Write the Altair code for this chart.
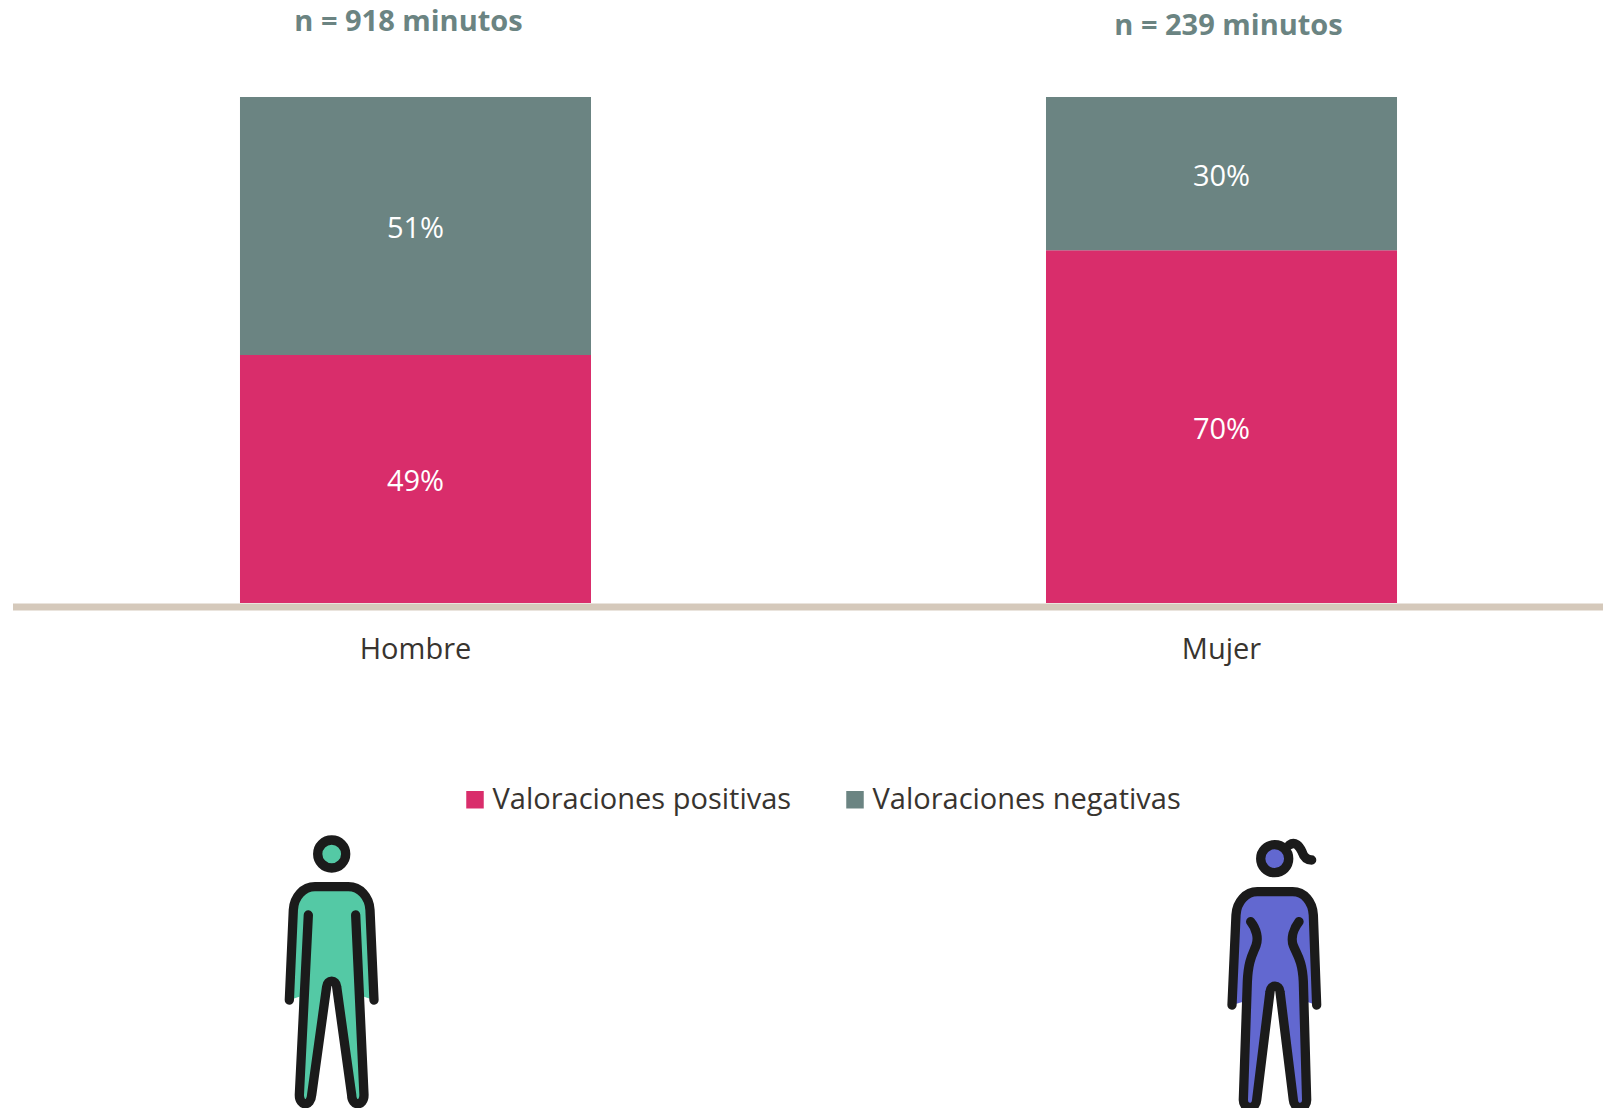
import altair as alt
import pandas as pd

sexos = ["Hombre", "Mujer"]
series = ["Valoraciones positivas", "Valoraciones negativas"]
positivas = [49, 69.7]
negativas = [51, 30.3]
etiquetas_n = ["n = 918 minutos", "n = 239 minutos"]

ROSE, GREY, BASE, INK = "#d92d6b", "#6b8482", "#d5c9bb", "#38342f"
TEAL, BLUE, DARK = "#54c9a5", "#6268d0", "#1b1b1b"
FONT = "Open Sans"

rows = []
for i, s in enumerate(sexos):
    rows.append(dict(sexo=s, serie=series[0], valor=positivas[i], orden=0, mid=positivas[i] / 2))
    rows.append(dict(sexo=s, serie=series[1], valor=negativas[i], orden=1, mid=positivas[i] + negativas[i] / 2))
df = pd.DataFrame(rows)
df["txt"] = df["valor"].round().astype(int).astype(str) + "%"

x = alt.X("sexo:N", sort=sexos, title=None,
          scale=alt.Scale(paddingInner=0.5645, paddingOuter=0.2689, align=0.5248),
          axis=alt.Axis(labelAngle=0, ticks=False, domainWidth=7, domainColor=BASE, offset=3.5,
                        labelFont=FONT, labelFontSize=29, labelColor=INK, labelPadding=29, grid=False))
yscale = alt.Scale(domain=[0, 117.6], nice=False)
y = alt.Y("valor:Q", stack="zero", title=None, scale=yscale, axis=None)

bars = alt.Chart(df).mark_bar(opacity=1).encode(
    x=x, y=y,
    color=alt.Color("serie:N", sort=series, scale=alt.Scale(domain=series, range=[ROSE, GREY]),
                    legend=alt.Legend(orient="none", legendX=448, legendY=777, direction="horizontal",
                                      title=None, symbolType="square", symbolSize=306, symbolStrokeWidth=0,
                                      symbolOpacity=1, labelFont=FONT, labelFontSize=29, labelColor=INK,
                                      labelOffset=3, columnPadding=49, labelLimit=400)),
    order=alt.Order("orden:Q"),
)

labels = alt.Chart(df).mark_text(font=FONT, fontSize=29, color="white", baseline="middle", dy=3).encode(
    x=alt.X("sexo:N", sort=sexos), y=alt.Y("mid:Q", scale=yscale), text="txt:N")

n_df = pd.DataFrame({"sexo": sexos, "n": etiquetas_n, "alto": [114.9, 114.1]})
n_h = alt.Chart(n_df[n_df.sexo == "Hombre"]).mark_text(font=FONT, fontSize=29, fontWeight="bold", color=GREY,
                                                       baseline="middle", dx=-7).encode(
    x=alt.X("sexo:N", sort=sexos), y=alt.Y("alto:Q", scale=yscale), text="n:N")
n_m = alt.Chart(n_df[n_df.sexo == "Mujer"]).mark_text(font=FONT, fontSize=29, fontWeight="bold", color=GREY,
                                                      baseline="middle", dx=7).encode(
    x=alt.X("sexo:N", sort=sexos), y=alt.Y("alto:Q", scale=yscale), text="n:N")

# Pictograms: paths are in 3x crop units; size 4/9 gives a path scale of 1/3
S = 4 / 9
man_fill = ("M88 540 L100 270 C102 230 130 200 165 200 L265 200 C300 200 328 230 330 270 L342 540 L312 530 "
            "L312 825 C312 860 275 860 275 825 L230 500 C228 478 202 478 200 500 L155 825 C153 860 118 860 118 825 "
            "L118 530 Z")
man_line = ("M88 540 L100 270 C102 230 130 200 165 200 L265 200 C300 200 328 230 330 270 L342 540 "
            "M145 285 L118 825 C118 860 153 860 155 825 L200 500 C202 478 228 478 230 500 L275 825 "
            "C275 860 312 860 312 825 L287 285")
wom_fill = ("M96 540 L108 270 C110 230 138 200 172 200 L278 200 C312 200 338 230 340 270 L350 540 L320 530 "
            "L320 825 C320 855 282 855 280 825 L240 500 C238 478 212 478 210 500 L170 825 C168 855 130 855 130 825 "
            "L130 530 Z")
wom_line = ("M96 540 L108 270 C110 230 138 200 172 200 L278 200 C312 200 338 230 340 270 L350 540 "
            "M152 290 C170 312 176 340 168 362 C158 388 145 405 142 470 L130 825 C130 855 168 855 170 825 "
            "L210 500 C212 478 238 478 240 500 L280 825 C282 855 320 855 320 825 L310 470 C307 405 290 388 280 362 "
            "C272 340 280 312 297 290 "
            "M268 60 C285 48 298 62 306 80 C312 98 322 105 335 105")

def glyph(path, px, py, filled, color, sw=0):
    kw = dict(shape=path, size=S, opacity=1, filled=filled)
    if filled:
        kw.update(fill=color, strokeWidth=0)
    else:
        kw.update(stroke=color, strokeWidth=sw, strokeCap="round", strokeJoin="round", fill="transparent")
    return alt.Chart(pd.DataFrame({"a": [0]})).mark_point(**kw).encode(
        x=alt.value(px - 12.5), y=alt.value(py - 8))

def head(px, py, color):
    return alt.Chart(pd.DataFrame({"a": [0]})).mark_point(
        shape="circle", size=784, opacity=1, filled=True, fill=color, stroke=DARK, strokeWidth=9.3
    ).encode(x=alt.value(px - 12.5), y=alt.value(py - 8))

icons = [
    glyph(man_fill, 260, 820, True, TEAL),
    glyph(man_line, 260, 820, False, DARK, 9.3),
    head(331.7, 854, TEAL),
    glyph(wom_fill, 1200, 825, True, BLUE),
    glyph(wom_line, 1200, 825, False, DARK, 9.3),
    head(1274.7, 858.7, BLUE),
]

chart = alt.layer(bars, labels, n_h, n_m, *icons).properties(
    width=1590.5, height=595,
    padding={"left": 4.5, "top": 0, "right": 0, "bottom": 505},
    autosize=alt.AutoSizeParams(type="none"),
    background="white",
).configure_view(stroke=None)

chart.save("out.html", embed_options={"renderer": "svg", "actions": False})
